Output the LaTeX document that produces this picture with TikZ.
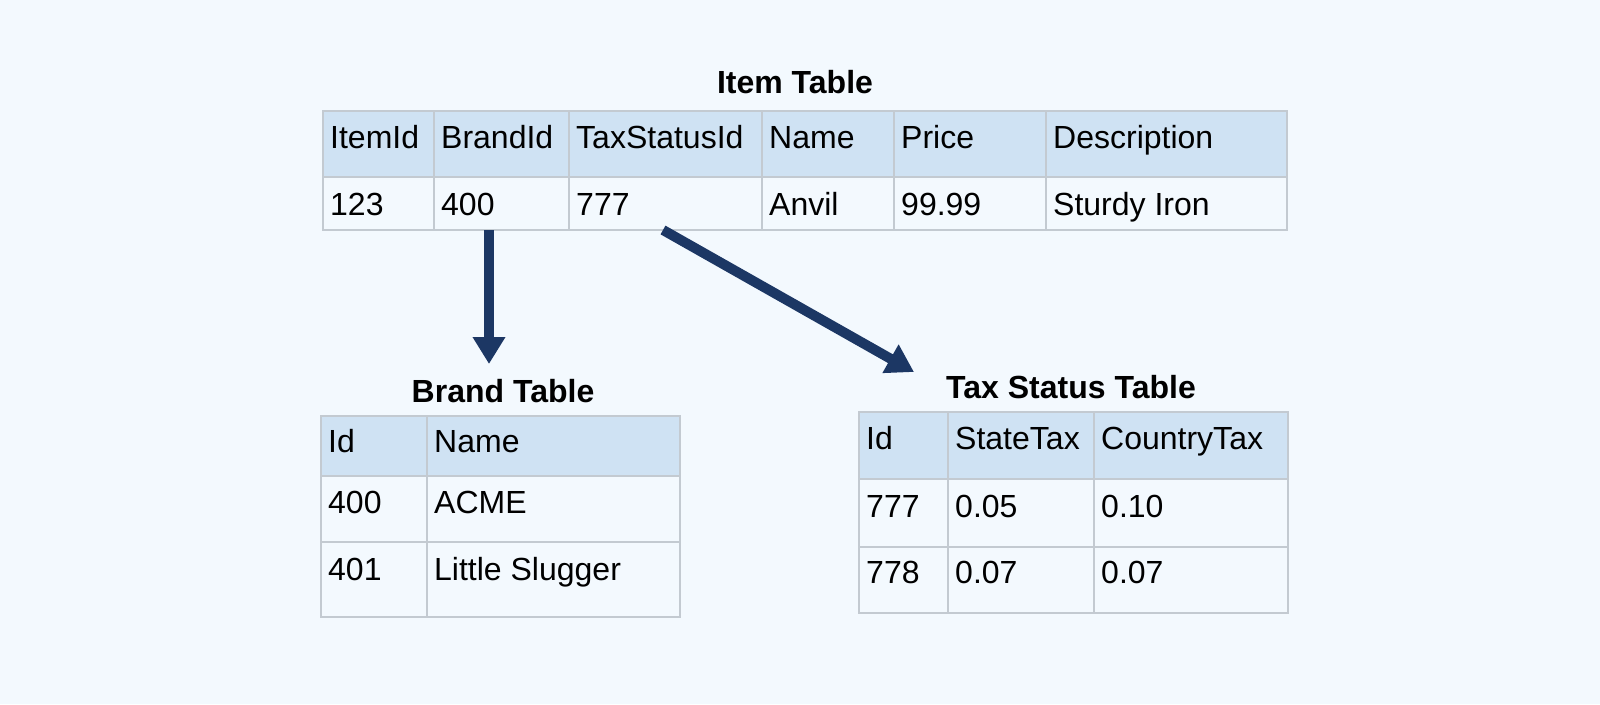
\documentclass[tikz,border=0pt]{standalone}
\usepackage{fontspec}
\setmainfont{Liberation Sans}
\usetikzlibrary{arrows.meta,positioning}
\definecolor{bgblue}{HTML}{F3F9FE}
\definecolor{hdrblue}{HTML}{CFE2F3}
\definecolor{gridgray}{HTML}{C3CAD1}
\definecolor{fknavy}{HTML}{1C3764}
\tikzset{%
  cell/.style={anchor=base west,inner sep=0pt,font=\fontsize{32}{32}\selectfont},
  tabtitle/.style={anchor=base,inner sep=0pt,font=\fontsize{32}{32}\selectfont\bfseries},
  grid/.style={draw=gridgray,line width=1.3pt},
  fk/.style={draw=fknavy,line width=10pt,-{Triangle[width=31pt,length=27pt]}}
}
\begin{document}
\begin{tikzpicture}[x=1pt,y=-1pt]
	\fill[bgblue] (0,0) rectangle (1600,704);
	% item table
	\fill[hdrblue] (323,111) rectangle (1287,177);
	\draw[grid] (323,111) rectangle (1287,230) (323,177) -- (1287,177);
	\foreach \x in {434,569,762,894,1046} \draw[grid] (\x,111) -- (\x,230);
	\node[tabtitle] (item-title) at (795,93) {Item Table};
	\foreach \x/\t [count=\i] in {323/ItemId,434/BrandId,569/TaxStatusId,762/Name,894/Price,1046/Description}
		\node[cell] (item-h\i) at (\x+7,148) {\t};
	\foreach \x/\t [count=\i] in {323/123,434/400,569/777,762/Anvil,894/99.99,1046/Sturdy Iron}
		\node[cell] (item-d\i) at (\x+7,215) {\t};
	% brand table
	\fill[hdrblue] (321,416) rectangle (680,476);
	\draw[grid] (321,416) rectangle (680,617) (321,476) -- (680,476) (321,542) -- (680,542) (427,416) -- (427,617);
	\node[tabtitle] (brand-title) at (503,402) {Brand Table};
	\node[cell] (brand-h1) at (328,452) {Id};
	\node[cell] (brand-h2) at (434,452) {Name};
	\node[cell] (brand-a1) at (328,513) {400};
	\node[cell] (brand-a2) at (434,513) {ACME};
	\node[cell] (brand-b1) at (328,580) {401};
	\node[cell] (brand-b2) at (434,580) {Little Slugger};
	% tax status table
	\fill[hdrblue] (859,412) rectangle (1288,479);
	\draw[grid] (859,412) rectangle (1288,613) (859,479) -- (1288,479) (859,547) -- (1288,547);
	\foreach \x in {948,1094} \draw[grid] (\x,412) -- (\x,613);
	\node[tabtitle] (tax-title) at (1071,398) {Tax Status Table};
	\foreach \y/\a/\b/\c [count=\i] in {449/Id/StateTax/CountryTax,517/777/0.05/0.10,583/778/0.07/0.07}{
		\node[cell] (tax-\i1) at (866,\y) {\a};
		\node[cell] (tax-\i2) at (955,\y) {\b};
		\node[cell] (tax-\i3) at (1101,\y) {\c};
	}
	% foreign keys
	\coordinate (brand-out) at (489,230);
	\coordinate (brand-in) at (489,364);
	\coordinate (tax-out) at (663,230);
	\coordinate (tax-in) at (914,372);
	\draw[fk] (brand-out) -- (brand-in);
	\draw[fk] (tax-out) -- (tax-in);
\end{tikzpicture}
\end{document}
